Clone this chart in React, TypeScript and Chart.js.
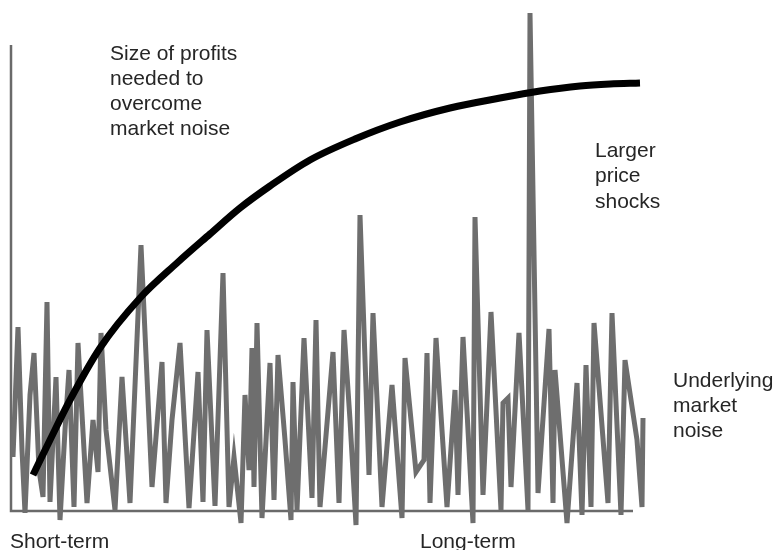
import React, { useEffect, useRef } from "react";
import { Chart, registerables } from "chart.js";

Chart.register(...registerables);

// Underlying market noise (time period, level)
const noiseX = [
  0.4, 1.4, 2.2, 2.8, 3.8, 4.6, 5.6, 6.4, 7.2, 7.8, 9.0, 9.8, 10.8, 11.6, 12.6, 13.4,
  15.2, 16.4, 17.4, 18.0, 19.0, 20.8, 22.2, 23.8, 26.0, 28.2, 30.2, 31.0, 32.2, 33.8,
  35.6, 37.4, 38.4, 39.2, 40.8, 42.4, 43.6, 44.6, 46.0, 46.8, 47.6, 48.2, 48.6, 49.2,
  50.2, 51.8, 52.6, 53.4, 54.8, 56.0, 56.4, 57.2, 58.6, 60.2, 61.0, 61.8, 64.4, 65.6,
  66.6, 67.8, 69.0, 69.8, 71.6, 72.4, 74.2, 76.2, 78.2, 78.8, 81.0, 82.6, 83.2, 83.8,
  85.0, 87.2, 88.8, 89.4, 90.4, 92.4, 92.8, 94.4, 96.0, 98.0, 98.4, 99.4, 100.0, 101.6,
  103.4, 103.8, 105.4, 107.6, 108.4, 108.8, 111.2, 113.2, 114.2, 115.0, 116.0, 116.6,
  119.4, 120.2, 122.0, 122.8, 125.2, 126.2, 126.4,
];
const noiseY = [
  10.8, 36.8, 12.2, -0.4, 23.2, 31.6, 8.2, 2.8, 41.8, 1.8, 26.8, -1.8, 16.2, 28.2, 0.8, 33.6,
  1.6, 18.2, 7.8, 35.6, 16.2, 0.2, 26.8, 1.6, 53.2, 4.8, 29.8, 1.6, 18.2, 33.6,
  0.6, 27.8, 1.8, 36.2, 1.0, 47.6, 0.8, 10.8, -2.4, 23.2, 8.2, 32.6, 4.8, 37.6,
  -1.4, 29.6, 2.2, 31.2, 14.2, -1.8, 25.8, 0.2, 34.6, 2.6, 38.2, 0.8, 31.8, 1.6,
  36.2, 18.2, -2.8, 59.2, 7.2, 39.6, 0.8, 25.2, -1.4, 30.6, 7.8, 10.2, 31.6, 1.6,
  34.6, 0.8, 24.2, 3.2, 34.8, -2.4, 58.8, 3.2, 39.8, 0.2, 21.6, 22.6, 4.8, 35.6,
  0.2, 99.6, 3.6, 36.4, 1.6, 28.2, -2.4, 25.6, -0.8, 29.2, 0.8, 37.6,
  1.6, 39.6, -0.8, 30.2, 14.2, 0.8, 18.6,
];

// Size of profits needed to overcome market noise
const profitX = [4.4, 7.8, 11.8, 17.8, 25.8, 33.2, 39.8, 45.8, 51.8, 59.8, 68.8, 77.8, 87.8, 97.8, 105.8, 113.8, 119.8, 125.8];
const profitY = [7.2, 14.2, 22.2, 32.6, 42.6, 49.6, 55.4, 60.6, 65.0, 70.2, 74.4, 77.8, 80.6, 82.6, 84.0, 85.0, 85.4, 85.6];

// Axis extents (time range, level range)
const axisXEnd = 124.4;
const axisYEnd = 93.2;

const annotationLines = [
  "Size of profits",
  "needed to",
  "overcome",
  "market noise",
  "Larger",
  "price",
  "shocks",
  "Underlying",
  "market",
  "noise",
  "Short-term",
  "Long-term",
];

const labelPositions: [number, number][] = [
  [110, 60], [110, 85], [110, 110], [110, 135],
  [595, 157], [595, 182], [595, 208],
  [673, 387], [673, 412], [673, 437],
  [10, 548], [420, 548],
];

const axesPlugin = {
  id: "axesPlugin",
  beforeDatasetsDraw(chart: any) {
    const { ctx, scales } = chart;
    const xs = scales.x;
    const ys = scales.y;
    const x0 = xs.getPixelForValue(0);
    const y0 = ys.getPixelForValue(0);
    ctx.save();
    ctx.strokeStyle = "#6a6a6a";
    ctx.lineWidth = 2.5;
    ctx.beginPath();
    ctx.moveTo(x0, ys.getPixelForValue(axisYEnd));
    ctx.lineTo(x0, y0);
    ctx.lineTo(xs.getPixelForValue(axisXEnd), y0);
    ctx.stroke();
    ctx.restore();
  },
  afterDraw(chart: any) {
    const { ctx } = chart;
    ctx.save();
    ctx.fillStyle = "#262626";
    ctx.font = '21px "Liberation Sans", Arial, sans-serif';
    ctx.textBaseline = "alphabetic";
    ctx.textAlign = "left";
    annotationLines.forEach((t, i) => {
      const [px, py] = labelPositions[i];
      ctx.fillText(t, px, py);
    });
    ctx.restore();
  },
};

export default function App() {
  const ref = useRef<HTMLCanvasElement | null>(null);
  useEffect(() => {
    if (!ref.current) return;
    const chart = new Chart(ref.current, {
      type: "line",
      data: {
        datasets: [
          {
            label: "Size of profits needed",
            data: profitX.map((x, i) => ({ x, y: profitY[i] })),
            borderColor: "#000000",
            borderWidth: 7,
            pointRadius: 0,
            cubicInterpolationMode: "monotone",
            borderCapStyle: "butt",
            fill: false,
            order: 0,
          },
          {
            label: "Underlying market noise",
            data: noiseX.map((x, i) => ({ x, y: noiseY[i] })),
            borderColor: "#6e6e6e",
            borderWidth: 5,
            pointRadius: 0,
            tension: 0,
            borderJoinStyle: "miter",
            fill: false,
            order: 1,
          },
        ],
      },
      options: {
        animation: false,
        responsive: false,
        devicePixelRatio: 1,
        layout: { padding: { left: 11, right: 126, top: 11, bottom: 19 } },
        plugins: { legend: { display: false }, tooltip: { enabled: false } },
        scales: {
          x: { type: "linear", min: 0, max: 128, display: false },
          y: { type: "linear", min: -4, max: 100, display: false },
        },
      },
      plugins: [axesPlugin],
    });
    return () => chart.destroy();
  }, []);
  return (
    <div style={{ position: "absolute", left: 0, top: 0, width: 777, height: 550, background: "#fff" }}>
      <canvas ref={ref} width={777} height={550} />
    </div>
  );
}
